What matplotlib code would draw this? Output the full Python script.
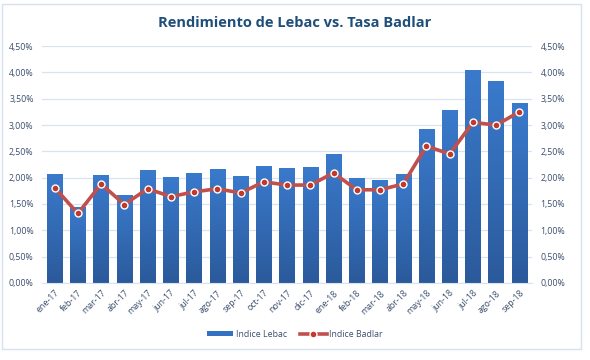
import matplotlib
matplotlib.use("Agg")
import matplotlib.pyplot as plt
import numpy as np
from matplotlib.ticker import FuncFormatter
from matplotlib.patches import Rectangle
from matplotlib.colors import LinearSegmentedColormap

months = ["ene-17","feb-17","mar-17","abr-17","may-17","jun-17","jul-17","ago-17","sep-17",
          "oct-17","nov-17","dic-17","ene-18","feb-18","mar-18","abr-18","may-18","jun-18",
          "jul-18","ago-18","sep-18"]
lebac = [2.07,1.44,2.05,1.67,2.14,2.01,2.09,2.16,2.03,2.22,2.19,2.20,2.45,2.00,1.96,2.07,
         2.92,3.28,4.04,3.84,3.42]
badlar = [1.81,1.32,1.88,1.49,1.79,1.64,1.73,1.79,1.71,1.92,1.86,1.86,2.09,1.77,1.77,1.88,
          2.60,2.45,3.05,3.00,3.25]
yticks = [0,0.5,1.0,1.5,2.0,2.5,3.0,3.5,4.0,4.5]

plt.rcParams['font.family'] = ['Open Sans', 'DejaVu Sans']
txt = '#3b4e6e'

fig = plt.figure(figsize=(5.9, 3.6), dpi=100)
fig.patches.append(Rectangle((0.004, 0.03), 0.98, 0.96, transform=fig.transFigure,
                             fill=False, edgecolor='#d6e2ef', linewidth=1))
ax = fig.add_axes([0.071, 0.214, 0.831, 0.658])
x = np.arange(len(months))
bars = ax.bar(x, lebac, width=0.66, color='#3372c2', zorder=2, label='Indice Lebac')
grad = np.linspace(0, 1, 256).reshape(-1, 1)
cmap = LinearSegmentedColormap.from_list('g', ['#2b5a9b', '#3a7acc'])
for b in bars:
    bx, by, bw, bh = b.get_x(), b.get_y(), b.get_width(), b.get_height()
    im = ax.imshow(grad, extent=[bx, bx + bw, by, by + bh], origin='lower', cmap=cmap,
                   aspect='auto', zorder=2.1)
    im.set_clip_path(b)
line, = ax.plot(x, badlar, color='#c0504d', linewidth=2.6, marker='o', markersize=5,
                markerfacecolor='#c0392b', markeredgecolor='white', markeredgewidth=1.0,
                zorder=3, label='Indice Badlar')

ax.set_xlim(-0.55, len(months) - 0.45)
ax.set_ylim(0, 4.5)
ax.set_yticks(yticks)
fmt = FuncFormatter(lambda v, p: f"{v:.2f}%".replace('.', ','))
ax.yaxis.set_major_formatter(fmt)
ax.grid(axis='y', color='#d9e3ef', linewidth=0.9, zorder=0)
ax.set_axisbelow(True)
for s in ['top', 'right', 'left']:
    ax.spines[s].set_visible(False)
ax.spines['bottom'].set_color('#d9e3ef')
ax.tick_params(axis='y', length=0, labelsize=6.3, labelcolor=txt, pad=6)
ax.set_xticks(x)
ax.set_xticklabels(months, rotation=45, ha='right', rotation_mode='anchor',
                   fontsize=6.3, color=txt)
ax.tick_params(axis='x', length=0, pad=4)

ax2 = ax.twinx()
ax2.set_ylim(0, 4.5)
ax2.set_yticks(yticks)
ax2.yaxis.set_major_formatter(fmt)
for s in ['top', 'right', 'left', 'bottom']:
    ax2.spines[s].set_visible(False)
ax2.tick_params(axis='y', length=0, labelsize=6.3, labelcolor=txt, pad=6)

fig.text(0.5, 0.935, "Rendimiento de Lebac vs. Tasa Badlar", ha='center', va='center',
         fontsize=10.5, fontweight='bold', color='#1f4e79')
leg = fig.legend([bars, line], ['Indice Lebac', 'Indice Badlar'], loc='center',
                 bbox_to_anchor=(0.5, 0.072), ncol=2, frameon=False,
                 fontsize=6.3, handlelength=3, handleheight=0.4, columnspacing=1.5,
                 handletextpad=0.3)
for t in leg.get_texts():
    t.set_color(txt)

fig.savefig('out.png', dpi=100, facecolor='white')
